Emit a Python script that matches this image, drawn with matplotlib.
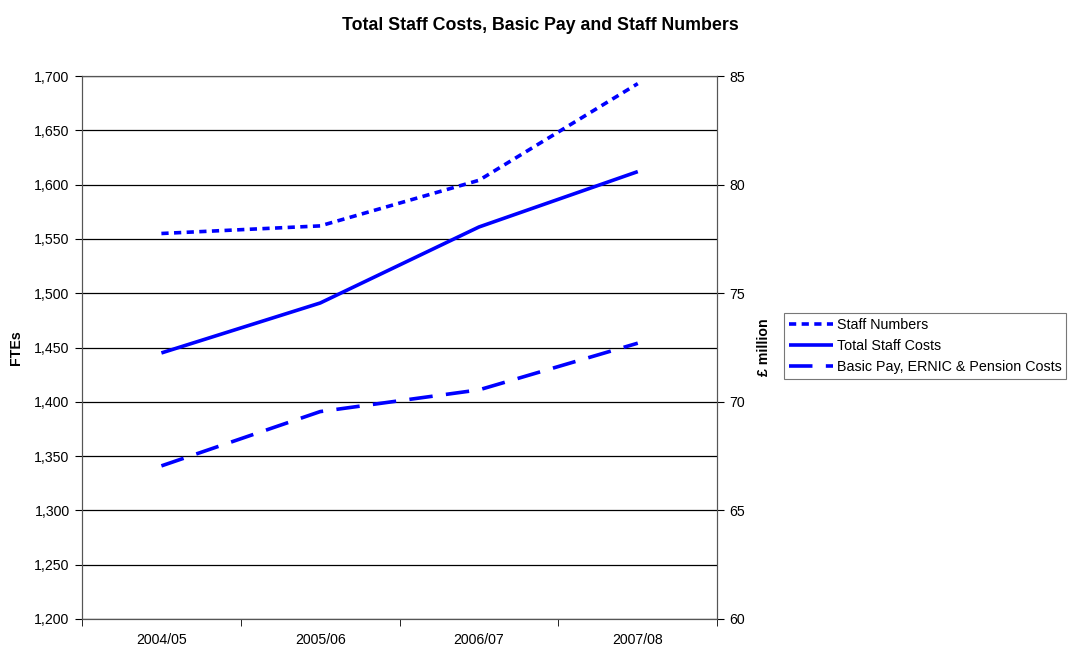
import matplotlib
matplotlib.use('Agg')
import matplotlib.pyplot as plt
from matplotlib.ticker import FuncFormatter

plt.rcParams['font.family'] = ['Liberation Sans', 'DejaVu Sans']
plt.rcParams['font.size'] = 10.2

years = ['2004/05', '2005/06', '2006/07', '2007/08']
staff_numbers = [1555, 1562, 1604, 1693]
total_costs = [72.25, 74.55, 78.05, 80.6]
basic_pay = [67.05, 69.55, 70.55, 72.7]

fig = plt.figure(figsize=(10.72, 6.46), dpi=100)
ax = fig.add_axes([0.0765, 0.0418, 0.5925, 0.8405])
ax2 = ax.twinx()

x = list(range(len(years)))
blue = '#0000ff'
l1, = ax.plot(x, staff_numbers, color=blue, lw=2.6, dashes=(2, 1.5),
              label='Staff Numbers')
l2, = ax2.plot(x, total_costs, color=blue, lw=2.6, solid_capstyle='butt',
               label='Total Staff Costs')
l3, = ax2.plot(x, basic_pay, color=blue, lw=2.6, dashes=(6.5, 3.7),
               label='Basic Pay, ERNIC & Pension Costs')

ax.set_xlim(-0.5, 3.5)
ax.set_ylim(1200, 1700)
ax.set_yticks(range(1200, 1701, 50))
ax.yaxis.set_major_formatter(FuncFormatter(lambda v, p: f'{int(v):,}'))
ax2.set_ylim(60, 85)
ax2.set_yticks(range(60, 86, 5))

ax.set_xticks(x)
ax.set_xticklabels(years)
ax.set_xticks([-0.5, 0.5, 1.5, 2.5, 3.5], minor=True)
ax.tick_params(axis='x', which='major', length=0, pad=10)
ax.tick_params(axis='x', which='minor', length=5, direction='out')
ax.tick_params(axis='y', length=5, direction='out', pad=4)
ax2.tick_params(axis='y', length=5, direction='out', pad=4)

ax.grid(axis='y', color='black', lw=0.9)
ax.set_axisbelow(True)
for a in (ax, ax2):
    for s in a.spines.values():
        s.set_color('#555555')

ax.set_ylabel('FTEs', fontweight='bold', labelpad=8)
ax2.set_ylabel('£ million', fontweight='bold', labelpad=8)

fig.text(0.504, 0.961, 'Total Staff Costs, Basic Pay and Staff Numbers',
         ha='center', va='center', fontweight='bold', fontsize=12.8)

leg = fig.legend(handles=[l1, l2, l3], loc='upper left',
                 bbox_to_anchor=(0.731, 0.516), frameon=True, fancybox=False,
                 edgecolor='#555555', handlelength=3.1, handletextpad=0.25,
                 labelspacing=0.5, borderpad=0.35, borderaxespad=0,
                 fontsize=10.3)
leg.get_frame().set_linewidth(0.8)

fig.savefig('out.png', dpi=100)
